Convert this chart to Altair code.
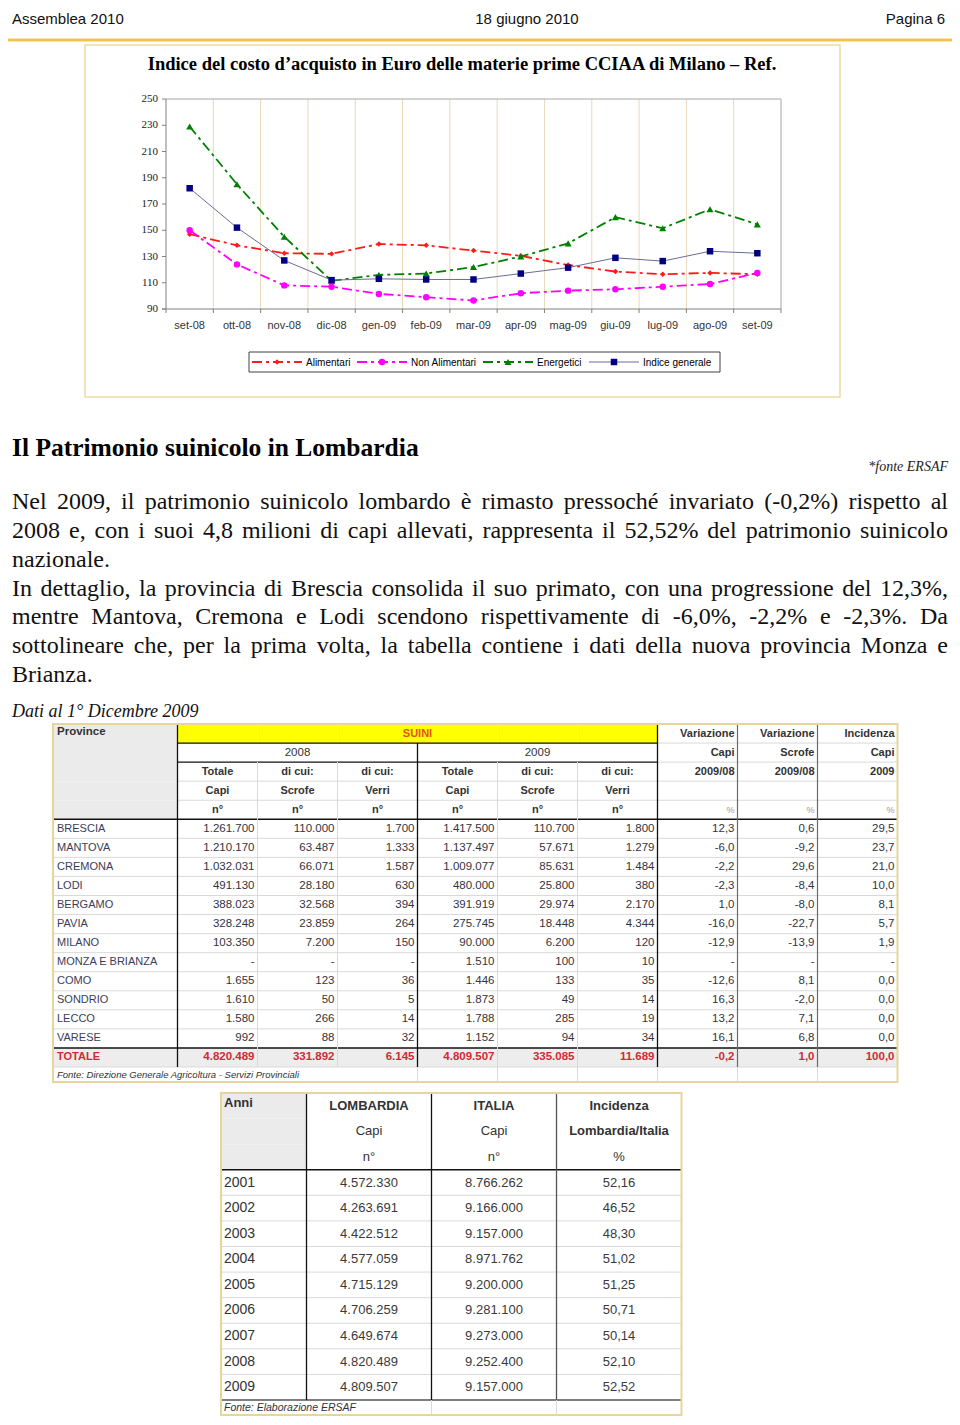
import altair as alt
import pandas as pd

# ---------------- data: line chart ----------------
months = ["set-08", "ott-08", "nov-08", "dic-08", "gen-09", "feb-09", "mar-09",
          "apr-09", "mag-09", "giu-09", "lug-09", "ago-09", "set-09"]
series_names = ["Alimentari", "Non Alimentari", "Energetici", "Indice generale"]
alimentari = [147, 138.5, 132.5, 132, 139.5, 138.5, 134.5, 130.5, 123.5, 118.5, 116.5, 117.5, 116.5]
non_alimentari = [150, 124, 108, 107, 101.5, 99, 96.5, 102, 104, 105, 107, 109, 117.5]
energetici = [229, 185, 145, 111.5, 116, 117, 122, 130, 140, 160, 151.5, 166, 154.5]
indice_generale = [182, 152, 127, 112, 113, 112.5, 112.5, 117, 121.5, 129, 126.5, 134, 132.5]
y_ticks = [90, 110, 130, 150, 170, 190, 210, 230, 250]
chart_title = "Indice del costo d’acquisto in Euro delle materie prime CCIAA di Milano – Ref."

# ---------------- data: page text ----------------
header_texts = ["Assemblea 2010", "18 giugno 2010", "Pagina 6"]
section_title = "Il Patrimonio suinicolo in Lombardia"
source_note = "*fonte ERSAF"
paragraph_lines = [
    "Nel 2009, il patrimonio suinicolo lombardo è rimasto pressoché invariato (-0,2%) rispetto al",
    "2008 e, con i suoi 4,8 milioni di capi allevati, rappresenta il 52,52% del patrimonio suinicolo",
    "nazionale.",
    "In dettaglio, la provincia di Brescia consolida il suo primato, con una progressione del 12,3%,",
    "mentre Mantova, Cremona e Lodi scendono rispettivamente di -6,0%, -2,2% e -2,3%. Da",
    "sottolineare che, per la prima volta, la tabella contiene i dati della nuova provincia Monza e",
    "Brianza.",
]
para_justified = [True, True, False, True, True, True, False]
data_note = "Dati al 1° Dicembre 2009"

# ---------------- data: table 1 ----------------
provinces = ["BRESCIA", "MANTOVA", "CREMONA", "LODI", "BERGAMO", "PAVIA", "MILANO",
             "MONZA E BRIANZA", "COMO", "SONDRIO", "LECCO", "VARESE", "TOTALE"]
capi_2008 = ["1.261.700", "1.210.170", "1.032.031", "491.130", "388.023", "328.248", "103.350",
             "-", "1.655", "1.610", "1.580", "992", "4.820.489"]
scrofe_2008 = ["110.000", "63.487", "66.071", "28.180", "32.568", "23.859", "7.200",
               "-", "123", "50", "266", "88", "331.892"]
verri_2008 = ["1.700", "1.333", "1.587", "630", "394", "264", "150", "-", "36", "5", "14", "32", "6.145"]
capi_2009 = ["1.417.500", "1.137.497", "1.009.077", "480.000", "391.919", "275.745", "90.000",
             "1.510", "1.446", "1.873", "1.788", "1.152", "4.809.507"]
scrofe_2009 = ["110.700", "57.671", "85.631", "25.800", "29.974", "18.448", "6.200",
               "100", "133", "49", "285", "94", "335.085"]
verri_2009 = ["1.800", "1.279", "1.484", "380", "2.170", "4.344", "120", "10", "35", "14", "19", "34", "11.689"]
var_capi = ["12,3", "-6,0", "-2,2", "-2,3", "1,0", "-16,0", "-12,9", "-", "-12,6", "16,3", "13,2", "16,1", "-0,2"]
var_scrofe = ["0,6", "-9,2", "29,6", "-8,4", "-8,0", "-22,7", "-13,9", "-", "8,1", "-2,0", "7,1", "6,8", "1,0"]
incidenza_capi = ["29,5", "23,7", "21,0", "10,0", "8,1", "5,7", "1,9", "-", "0,0", "0,0", "0,0", "0,0", "100,0"]
t1_columns = ["tot08", "scr08", "ver08", "tot09", "scr09", "ver09", "varc", "vars", "inc"]
t1_head_center = [("h2", "scr08", "2008"), ("h2", "scr09", "2009"),
                  ("h3", "tot08", "Totale"), ("h3", "scr08", "di cui:"), ("h3", "ver08", "di cui:"),
                  ("h3", "tot09", "Totale"), ("h3", "scr09", "di cui:"), ("h3", "ver09", "di cui:"),
                  ("h4", "tot08", "Capi"), ("h4", "scr08", "Scrofe"), ("h4", "ver08", "Verri"),
                  ("h4", "tot09", "Capi"), ("h4", "scr09", "Scrofe"), ("h4", "ver09", "Verri"),
                  ("h5", "tot08", "n°"), ("h5", "scr08", "n°"), ("h5", "ver08", "n°"),
                  ("h5", "tot09", "n°"), ("h5", "scr09", "n°"), ("h5", "ver09", "n°")]
t1_head_right = [("h1", "varc", "Variazione"), ("h1", "vars", "Variazione"), ("h1", "inc", "Incidenza"),
                 ("h2", "varc", "Capi"), ("h2", "vars", "Scrofe"), ("h2", "inc", "Capi"),
                 ("h3", "varc", "2009/08"), ("h3", "vars", "2009/08"), ("h3", "inc", "2009")]
t1_head_pct = [("h5", "varc", "%"), ("h5", "vars", "%"), ("h5", "inc", "%")]
t1_source = "Fonte: Direzione Generale Agricoltura - Servizi Provinciali"

# ---------------- data: table 2 ----------------
years = ["2001", "2002", "2003", "2004", "2005", "2006", "2007", "2008", "2009"]
lombardia_capi = ["4.572.330", "4.263.691", "4.422.512", "4.577.059", "4.715.129",
                  "4.706.259", "4.649.674", "4.820.489", "4.809.507"]
italia_capi = ["8.766.262", "9.166.000", "9.157.000", "8.971.762", "9.200.000",
               "9.281.100", "9.273.000", "9.252.400", "9.157.000"]
incidenza_lomb_ita = ["52,16", "46,52", "48,30", "51,02", "51,25", "50,71", "50,14", "52,10", "52,52"]
t2_columns = ["lomb", "ital", "inc"]
t2_head_bold = [("h1", "lomb", "LOMBARDIA"), ("h1", "ital", "ITALIA"), ("h1", "inc", "Incidenza"),
                ("h2", "inc", "Lombardia/Italia")]
t2_head_norm = [("h2", "lomb", "Capi"), ("h2", "ital", "Capi"),
                ("h3", "lomb", "n°"), ("h3", "ital", "n°"), ("h3", "inc", "%")]
t2_source = "Fonte: Elaborazione ERSAF"


# ---------------- layout helpers ----------------
def P(v):
    return v - 8


ONE = alt.Data(values=[{"k": 0}])
SANS = "Liberation Sans"
SERIF = "Liberation Serif"

# Times-compatible advance widths (1/1000 em) used to justify the paragraph
_W = {" ": 250, "%": 833, "(": 333, ")": 333, ",": 250, "-": 333, ".": 250, "/": 278, ":": 278}
_W.update({d: 500 for d in "0123456789"})
_W.update(dict(zip("ABCDEFGHIJKLMNOPQRSTUVWXYZ",
                   [722, 667, 667, 722, 611, 556, 722, 722, 333, 389, 722, 611, 889, 722, 722, 556,
                    722, 667, 556, 611, 722, 722, 944, 722, 722, 611])))
_W.update(dict(zip("abcdefghijklmnopqrstuvwxyz",
                   [444, 500, 444, 500, 444, 333, 500, 500, 278, 278, 500, 278, 778, 500, 500, 500,
                    500, 333, 389, 278, 500, 500, 722, 500, 500, 444])))
_W.update({"è": 444, "é": 444, "à": 444, "ò": 500, "ù": 500, "ì": 278})


def word_width(w, size):
    return sum(_W.get(ch, 500) for ch in w) * size / 1000.0


def text_at(s, x, y, **kw):
    return alt.Chart(ONE).mark_text(text=s, **kw).encode(x=alt.value(x), y=alt.value(y))


def rule_h(x1, x2, y, color, w=1.0):
    return alt.Chart(ONE).mark_rule(color=color, strokeWidth=w).encode(
        x=alt.value(P(x1)), x2=alt.value(P(x2)), y=alt.value(P(y)))


def rule_v(x, y1, y2, color, w=1.0):
    return alt.Chart(ONE).mark_rule(color=color, strokeWidth=w).encode(
        x=alt.value(P(x)), y=alt.value(P(y1)), y2=alt.value(P(y2)))


def box(x1, y1, x2, y2, fill=None, stroke=None, w=1.0):
    kw = {}
    if fill:
        kw["fill"] = fill
    else:
        kw["fillOpacity"] = 0
    if stroke:
        kw["stroke"] = stroke
        kw["strokeWidth"] = w
    return alt.Chart(ONE).mark_rect(**kw).encode(
        x=alt.value(P(x1)), x2=alt.value(P(x2)), y=alt.value(P(y1)), y2=alt.value(P(y2)))


L = []

# ---------------- header ----------------
L.append(text_at(header_texts[0], P(12), 10.5, align="left", font=SANS, fontSize=15, color="#111111"))
L.append(text_at(header_texts[1], P(527), 10.5, align="center", font=SANS, fontSize=15, color="#111111"))
L.append(text_at(header_texts[2], P(945), 10.5, align="right", font=SANS, fontSize=15, color="#111111"))
L.append(rule_h(5, 952, 40, "#f2c350", 3))

# ---------------- line chart ----------------
L.append(box(85, 45, 840, 397, fill="white", stroke="#ecdca4", w=1.5))
L.append(text_at(chart_title, P(462), P(63.5), align="center", font=SERIF, fontSize=18.5,
                 fontWeight="bold", color="#000000"))

X_M = alt.Scale(type="band", domain=months, range=[P(166), P(781)], paddingInner=0, paddingOuter=0)
Y_V = alt.Scale(type="linear", domain=[90, 250], range=[P(309), P(99)], zero=False, nice=False)

month_df = pd.DataFrame({"mese": months})
tick_df = pd.DataFrame({"v": y_ticks})

L.append(alt.Chart(month_df.iloc[1:]).mark_rule(color="#ead9b8", strokeWidth=1).encode(
    x=alt.X("mese:N", scale=X_M, axis=None, bandPosition=0),
    y=alt.value(P(99)), y2=alt.value(P(309))))
L.append(rule_h(166, 781, 99, "#a6a6a6"))
L.append(rule_v(781, 99, 309, "#a6a6a6"))
L.append(rule_v(166, 99, 309, "#808080"))
L.append(rule_h(162, 781, 309, "#808080"))
L.append(alt.Chart(month_df).mark_rule(color="#808080").encode(
    x=alt.X("mese:N", scale=X_M, axis=None, bandPosition=0),
    y=alt.value(P(309)), y2=alt.value(P(313))))
L.append(rule_v(781, 309, 313, "#808080"))
L.append(alt.Chart(tick_df).mark_rule(color="#808080").encode(
    y=alt.Y("v:Q", scale=Y_V, axis=None), x=alt.value(P(162)), x2=alt.value(P(166))))
L.append(alt.Chart(tick_df).mark_text(align="right", baseline="middle", font=SERIF, fontSize=11,
                                      color="#222222").encode(
    y=alt.Y("v:Q", scale=Y_V, axis=None), x=alt.value(P(158)), text="v:Q"))
L.append(alt.Chart(month_df).mark_text(align="center", baseline="middle", font=SANS, fontSize=11,
                                       color="#333333").encode(
    x=alt.X("mese:N", scale=X_M, axis=None, bandPosition=0.5), y=alt.value(P(326)), text="mese:N"))

series_values = [alimentari, non_alimentari, energetici, indice_generale]
series_style = {
    "Alimentari": dict(line="#ff1a1a", fill="#ff1a1a", dash=[10, 4, 3, 4], width=1.8,
                       shape="diamond", size=30, lx=277),
    "Non Alimentari": dict(line="#ff00ff", fill="#ff00ff", dash=[10, 4, 3, 4], width=1.8,
                           shape="circle", size=42, lx=382),
    "Energetici": dict(line="#008000", fill="#008000", dash=[10, 4, 3, 4], width=1.8,
                       shape="triangle-up", size=50, lx=508),
    "Indice generale": dict(line="#6b6b99", fill="#000080", dash=None, width=1.0,
                            shape="square", size=42, lx=614),
}

L.append(box(249, 352, 720, 372, fill="white", stroke="#404040", w=1))
for s, vals in zip(series_names, series_values):
    st = series_style[s]
    df = pd.DataFrame({"mese": months, "valore": vals, "idx": list(range(len(months))), "serie": s})
    lk = dict(color=st["line"], strokeWidth=st["width"])
    if st["dash"]:
        lk["strokeDash"] = st["dash"]
    L.append(alt.Chart(df).mark_line(**lk).encode(
        x=alt.X("mese:N", scale=X_M, axis=None, bandPosition=0.5),
        y=alt.Y("valore:Q", scale=Y_V, axis=None),
        order=alt.Order("idx:Q")))
    L.append(alt.Chart(df).mark_point(shape=st["shape"], filled=True, size=st["size"],
                                      color=st["fill"], opacity=1).encode(
        x=alt.X("mese:N", scale=X_M, axis=None, bandPosition=0.5),
        y=alt.Y("valore:Q", scale=Y_V, axis=None)))
    leg = alt.Data(values=[{"serie": s}])
    L.append(alt.Chart(leg).mark_rule(**lk).encode(
        x=alt.value(P(st["lx"] - 25)), x2=alt.value(P(st["lx"] + 25)), y=alt.value(P(362))))
    L.append(alt.Chart(leg).mark_point(shape=st["shape"], filled=True, size=st["size"],
                                       color=st["fill"], opacity=1).encode(
        x=alt.value(P(st["lx"])), y=alt.value(P(362))))
    L.append(alt.Chart(leg).mark_text(align="left", baseline="middle", font=SANS, fontSize=10,
                                      color="#000000").encode(
        x=alt.value(P(st["lx"] + 29)), y=alt.value(P(362.5)), text="serie:N"))

# ---------------- section text ----------------
L.append(text_at(section_title, P(12), P(448), align="left", font=SERIF, fontSize=25.5,
                 fontWeight="bold", color="#000000"))
L.append(text_at(source_note, P(948), P(467), align="right", font=SERIF, fontSize=14,
                 fontStyle="italic", color="#222222"))

# justified paragraph: one text mark per word
PARA_SIZE = 24
PARA_LEFT, PARA_RIGHT = 12, 948
words_rows = []
for i, (line, just) in enumerate(zip(paragraph_lines, para_justified)):
    ws = line.split(" ")
    widths = [word_width(w, PARA_SIZE) for w in ws]
    if just and len(ws) > 1:
        gap = (PARA_RIGHT - PARA_LEFT - sum(widths)) / (len(ws) - 1)
    else:
        gap = word_width(" ", PARA_SIZE)
    xpos = PARA_LEFT
    for w, wd in zip(ws, widths):
        words_rows.append({"line": i, "word": w, "xp": P(xpos)})
        xpos += wd + gap
words_df = pd.DataFrame(words_rows)
Y_P = alt.Scale(type="point", domain=list(range(len(paragraph_lines))), range=[P(502), P(675)],
                padding=0)
X_PX = alt.Scale(type="linear", domain=[0, 944], range=[0, 944], zero=False, nice=False)
L.append(alt.Chart(words_df).mark_text(align="left", font=SERIF, fontSize=PARA_SIZE, color="#111111").encode(
    x=alt.X("xp:Q", scale=X_PX, axis=None), y=alt.Y("line:O", scale=Y_P, axis=None), text="word:N"))
L.append(text_at(data_note, P(12), P(712), align="left", font=SERIF, fontSize=18,
                 fontStyle="italic", color="#111111"))

# ---------------- table 1 ----------------
t1_rows = ["h1", "h2", "h3", "h4", "h5"] + provinces
X_T1 = alt.Scale(type="band", domain=t1_columns, range=[P(177.5), P(897.5)], paddingInner=0, paddingOuter=0)
Y_T1 = alt.Scale(type="band", domain=t1_rows, range=[P(724), P(1067)], paddingInner=0, paddingOuter=0)


def t1x(bp=None):
    if bp is None:
        return alt.X("col:N", scale=X_T1, axis=None)
    return alt.X("col:N", scale=X_T1, axis=None, bandPosition=bp)


def t1y(bp=None):
    if bp is None:
        return alt.Y("row:N", scale=Y_T1, axis=None)
    return alt.Y("row:N", scale=Y_T1, axis=None, bandPosition=bp)


L.append(box(53, 724, 897.5, 1082, fill="white"))
L.append(alt.Chart(pd.DataFrame({"row": ["h1", "h2", "h3", "h4", "h5"]})).mark_rect(fill="#ebebeb").encode(
    y=t1y(), x=alt.value(P(53)), x2=alt.value(P(177.5))))
L.append(alt.Chart(pd.DataFrame({"row": ["h1"] * 6, "col": t1_columns[:6]})).mark_rect(fill="#ffff00").encode(
    y=t1y(), x=t1x()))
L.append(alt.Chart(pd.DataFrame({"row": ["TOTALE"]})).mark_rect(fill="#ededed").encode(
    y=t1y(), x=alt.value(P(53)), x2=alt.value(P(897.5))))
LIGHT = "#d9d9d9"
L.append(alt.Chart(pd.DataFrame({"row": ["h4", "h5"]})).mark_rule(color=LIGHT).encode(
    y=t1y(0), x=alt.value(P(177.5)), x2=alt.value(P(897.5))))
L.append(alt.Chart(pd.DataFrame({"row": ["h2", "h3"]})).mark_rule(color=LIGHT).encode(
    y=t1y(0), x=alt.value(P(657.5)), x2=alt.value(P(897.5))))
L.append(alt.Chart(pd.DataFrame({"row": provinces[1:-1]})).mark_rule(color=LIGHT).encode(
    y=t1y(0), x=alt.value(P(53)), x2=alt.value(P(897.5))))
L.append(alt.Chart(pd.DataFrame({"row": ["TOTALE"]})).mark_rule(color=LIGHT).encode(
    y=t1y(1), x=alt.value(P(53)), x2=alt.value(P(897.5))))
L.append(alt.Chart(pd.DataFrame({"row": ["h2", "h3"]})).mark_rule(color="#111111", strokeWidth=1.3).encode(
    y=t1y(0), x=alt.value(P(177.5)), x2=alt.value(P(657.5))))
L.append(alt.Chart(pd.DataFrame({"row": ["BRESCIA", "TOTALE"]})).mark_rule(color="#111111", strokeWidth=1.5).encode(
    y=t1y(0), x=alt.value(P(53)), x2=alt.value(P(897.5))))
L.append(alt.Chart(pd.DataFrame({"col": ["scr08", "ver08"]})).mark_rule(color=LIGHT).encode(
    x=t1x(0), y=alt.value(P(762)), y2=alt.value(P(1067))))
L.append(alt.Chart(pd.DataFrame({"col": ["scr09", "ver09"]})).mark_rule(color=LIGHT).encode(
    x=t1x(0), y=alt.value(P(762)), y2=alt.value(P(1082))))
L.append(alt.Chart(pd.DataFrame({"col": ["tot09", "varc", "vars", "inc"]})).mark_rule(color=LIGHT).encode(
    x=t1x(0), y=alt.value(P(1067)), y2=alt.value(P(1082))))
L.append(alt.Chart(pd.DataFrame({"col": ["tot08", "varc"]})).mark_rule(color="#111111", strokeWidth=1.3).encode(
    x=t1x(0), y=alt.value(P(724)), y2=alt.value(P(1067))))
L.append(alt.Chart(pd.DataFrame({"col": ["tot09"]})).mark_rule(color="#111111", strokeWidth=1.3).encode(
    x=t1x(0), y=alt.value(P(743)), y2=alt.value(P(1067))))
L.append(alt.Chart(pd.DataFrame({"col": ["vars", "inc"]})).mark_rule(color="#6a6a6a", strokeWidth=1.2).encode(
    x=t1x(0), y=alt.value(P(724)), y2=alt.value(P(1067))))
L.append(box(53, 724, 897.5, 1082, stroke="#e6d69c", w=2))


def tup_df(rows):
    return pd.DataFrame([{"row": r, "col": c, "t": t} for r, c, t in rows])


hc = tup_df(t1_head_center)
L.append(alt.Chart(hc[hc.row == "h2"]).mark_text(align="center", baseline="middle", font=SANS,
                                                 fontSize=11.5, color="#333333").encode(
    x=t1x(0.5), y=t1y(0.5), text="t:N"))
L.append(alt.Chart(hc[hc.row != "h2"]).mark_text(align="center", baseline="middle", font=SANS,
                                                 fontSize=11, fontWeight="bold", color="#333333").encode(
    x=t1x(0.5), y=t1y(0.5), text="t:N"))
L.append(alt.Chart(tup_df(t1_head_right)).mark_text(align="right", baseline="middle", dx=-3, font=SANS,
                                                    fontSize=11, fontWeight="bold", color="#333333").encode(
    x=t1x(1), y=t1y(0.5), text="t:N"))
L.append(alt.Chart(tup_df(t1_head_pct)).mark_text(align="right", baseline="middle", dx=-3, font=SANS,
                                                   fontSize=9, color="#999999").encode(
    x=t1x(1), y=t1y(0.5), text="t:N"))
L.append(alt.Chart(pd.DataFrame({"row": ["h1"], "col": ["tot09"], "t": ["SUINI"]})).mark_text(
    align="center", baseline="middle", font=SANS, fontSize=11, fontWeight="bold", color="#e2521c").encode(
    x=t1x(0), y=t1y(0.5), text="t:N"))
L.append(alt.Chart(pd.DataFrame({"row": ["h1"], "t": ["Province"]})).mark_text(
    align="left", baseline="middle", dy=-2, font=SANS, fontSize=11.5, fontWeight="bold", color="#333333").encode(
    x=alt.value(P(57)), y=t1y(0.5), text="t:N"))

t1_values = [capi_2008, scrofe_2008, verri_2008, capi_2009, scrofe_2009, verri_2009,
             var_capi, var_scrofe, incidenza_capi]
cells = pd.DataFrame([{"row": p, "col": c, "t": vals[i]}
                      for i, p in enumerate(provinces) for c, vals in zip(t1_columns, t1_values)])
L.append(alt.Chart(cells[cells.row != "TOTALE"]).mark_text(
    align="right", baseline="middle", dx=-3, font=SANS, fontSize=11.5, color="#33333d").encode(
    x=t1x(1), y=t1y(0.5), text="t:N"))
L.append(alt.Chart(cells[cells.row == "TOTALE"]).mark_text(
    align="right", baseline="middle", dx=-3, font=SANS, fontSize=11.5, fontWeight="bold", color="#d02a35").encode(
    x=t1x(1), y=t1y(0.5), text="t:N"))
prov_df = pd.DataFrame({"row": provinces})
L.append(alt.Chart(prov_df[prov_df.row != "TOTALE"]).mark_text(
    align="left", baseline="middle", font=SANS, fontSize=11, color="#3c3c58").encode(
    x=alt.value(P(57)), y=t1y(0.5), text="row:N"))
L.append(alt.Chart(prov_df[prov_df.row == "TOTALE"]).mark_text(
    align="left", baseline="middle", font=SANS, fontSize=11, fontWeight="bold", color="#d02a35").encode(
    x=alt.value(P(57)), y=t1y(0.5), text="row:N"))
L.append(text_at(t1_source, P(57), P(1075), align="left", baseline="middle", font=SANS, fontSize=9.5,
                 fontStyle="italic", color="#333333"))

# ---------------- table 2 ----------------
t2_rows = ["h1", "h2", "h3"] + years
X_T2 = alt.Scale(type="band", domain=t2_columns, range=[P(306.5), P(681.5)], paddingInner=0, paddingOuter=0)
Y_T2 = alt.Scale(type="band", domain=t2_rows, range=[P(1093), P(1400)], paddingInner=0, paddingOuter=0)


def t2x(bp=None):
    if bp is None:
        return alt.X("col:N", scale=X_T2, axis=None)
    return alt.X("col:N", scale=X_T2, axis=None, bandPosition=bp)


def t2y(bp=None):
    if bp is None:
        return alt.Y("row:N", scale=Y_T2, axis=None)
    return alt.Y("row:N", scale=Y_T2, axis=None, bandPosition=bp)


L.append(box(221, 1093, 681.5, 1415, fill="white"))
L.append(alt.Chart(pd.DataFrame({"row": ["h1", "h2", "h3"]})).mark_rect(fill="#ebebeb").encode(
    y=t2y(), x=alt.value(P(221)), x2=alt.value(P(306.5))))
L.append(alt.Chart(pd.DataFrame({"row": years[1:]})).mark_rule(color=LIGHT).encode(
    y=t2y(0), x=alt.value(P(221)), x2=alt.value(P(681.5))))
L.append(alt.Chart(pd.DataFrame({"row": [years[0]]})).mark_rule(color="#111111", strokeWidth=1.5).encode(
    y=t2y(0), x=alt.value(P(221)), x2=alt.value(P(681.5))))
L.append(alt.Chart(pd.DataFrame({"row": [years[-1]]})).mark_rule(color="#555555", strokeWidth=1.5).encode(
    y=t2y(1), x=alt.value(P(221)), x2=alt.value(P(681.5))))
L.append(alt.Chart(pd.DataFrame({"col": ["lomb", "ital"]})).mark_rule(color="#111111", strokeWidth=1.3).encode(
    x=t2x(0), y=alt.value(P(1093)), y2=alt.value(P(1400))))
L.append(alt.Chart(pd.DataFrame({"col": ["inc"]})).mark_rule(color="#555555", strokeWidth=1.3).encode(
    x=t2x(0), y=alt.value(P(1093)), y2=alt.value(P(1400))))
L.append(alt.Chart(pd.DataFrame({"col": ["ital", "inc"]})).mark_rule(color=LIGHT).encode(
    x=t2x(0), y=alt.value(P(1400)), y2=alt.value(P(1415))))
L.append(box(221, 1093, 681.5, 1415, stroke="#e6d69c", w=2))

L.append(alt.Chart(tup_df(t2_head_bold)).mark_text(align="center", baseline="middle", font=SANS,
                                                   fontSize=13, fontWeight="bold", color="#333333").encode(
    x=t2x(0.5), y=t2y(0.5), text="t:N"))
L.append(alt.Chart(tup_df(t2_head_norm)).mark_text(align="center", baseline="middle", font=SANS,
                                                   fontSize=13, color="#333333").encode(
    x=t2x(0.5), y=t2y(0.5), text="t:N"))
L.append(alt.Chart(pd.DataFrame({"row": ["h1"], "t": ["Anni"]})).mark_text(
    align="left", baseline="middle", dy=-3, font=SANS, fontSize=13, fontWeight="bold", color="#333333").encode(
    x=alt.value(P(224)), y=t2y(0.5), text="t:N"))
t2_cells = pd.DataFrame([{"row": y, "col": c, "t": vals[i]}
                         for i, y in enumerate(years)
                         for c, vals in zip(t2_columns, [lombardia_capi, italia_capi, incidenza_lomb_ita])])
L.append(alt.Chart(t2_cells).mark_text(align="center", baseline="middle", font=SANS, fontSize=13,
                                       color="#3a3a3a").encode(
    x=t2x(0.5), y=t2y(0.5), text="t:N"))
L.append(alt.Chart(pd.DataFrame({"row": years})).mark_text(
    align="left", baseline="middle", font=SANS, fontSize=14, color="#333333").encode(
    x=alt.value(P(224)), y=t2y(0.5), text="row:N"))
L.append(text_at(t2_source, P(224), P(1408), align="left", baseline="middle", font=SANS, fontSize=10.5,
                 fontStyle="italic", color="#333333"))

chart = alt.layer(*L).properties(
    width=944, height=1409, padding=0, autosize=alt.AutoSizeParams(type="none")
).resolve_scale(x="independent", y="independent").configure_view(strokeWidth=0)

chart.save("out.html", embed_options={"renderer": "svg", "actions": False})
